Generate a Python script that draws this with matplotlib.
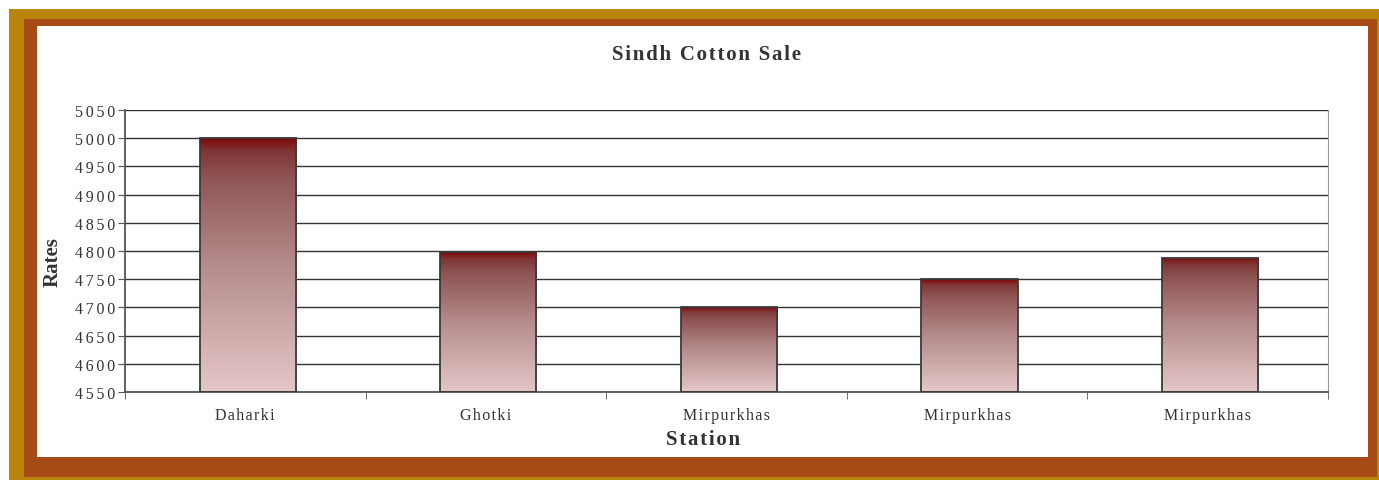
import numpy as np
import matplotlib.pyplot as plt
from matplotlib.patches import Rectangle
from matplotlib.colors import LinearSegmentedColormap

# chart data
stations = ['Daharki', 'Ghotki', 'Mirpurkhas', 'Mirpurkhas', 'Mirpurkhas']
rates = [5000, 4798, 4700, 4750, 4788]
yticks = list(range(4550, 5051, 50))

plt.rcParams['font.family'] = ['Liberation Serif', 'DejaVu Serif']

def spaced(s, n=1):
    # imitate the wide letter spacing of the original with hair spaces
    return ('\u200a' * n).join(s)

fig = plt.figure(figsize=(13.79, 4.81), dpi=100)
W, H = 1379, 481

def frect(x0, y0, x1, y1, color):
    # rectangle given in pixel coords (top-left origin)
    fig.patches.append(Rectangle((x0 / W, 1 - y1 / H), (x1 - x0) / W, (y1 - y0) / H,
                                 transform=fig.transFigure, facecolor=color,
                                 edgecolor='none', zorder=0))

# frames
frect(9, 10, 1379, 481, '#b8860b')
frect(24, 20, 1377, 478, '#a64b16')
frect(37, 27, 1368, 458, 'white')

ax = fig.add_axes([125 / W, 1 - 393 / H, (1328 - 125) / W, (393 - 111) / H])
ax.set_facecolor('none')
ax.set_zorder(2)

x = np.arange(len(stations))
cmap = LinearSegmentedColormap.from_list(
    'grad', [(0, '#e4c7c7'), (0.5, '#b58c8c'), (0.85, '#8f5454'),
             (0.95, '#7f3636'), (1, '#800808')])
grad = np.linspace(0, 1, 256).reshape(-1, 1)
bw = 0.4
bars = ax.bar(x + 0.01, [r - 4550 for r in rates], bottom=4550, width=bw,
              facecolor='none', edgecolor='#3a3a3a', linewidth=1.3, zorder=3)
for b, r in zip(bars, rates):
    im = ax.imshow(grad, cmap=cmap, aspect='auto', origin='lower',
                   extent=[b.get_x(), b.get_x() + bw, 4550, r], zorder=2)
    im.set_clip_path(b)

ax.set_xlim(-0.5, len(stations) - 0.5)
ax.set_ylim(4550, 5050)
ax.set_yticks(yticks)
ax.set_yticklabels([spaced(str(v), 2) for v in yticks], fontsize=11.5, color='#333333')
ax.yaxis.grid(True, color='#333333', linewidth=1.0, zorder=0)
ax.set_axisbelow(True)

ax.set_xticks(x)
ax.set_xticklabels([spaced(s, 1) for s in stations], fontsize=11.5, color='#333333')
ax.set_xticks(np.arange(-0.5, len(stations)), minor=True)
ax.tick_params(axis='x', which='major', length=0, pad=11)
ax.tick_params(axis='x', which='minor', length=5, color='#555555')
ax.tick_params(axis='y', length=5, color='#555555', pad=2)

for s in ['left', 'bottom']:
    ax.spines[s].set_color('#555555')
    ax.spines[s].set_linewidth(1.3)
ax.spines['right'].set_color('#999999')
ax.spines['top'].set_visible(False)

fig.text(707 / W, 1 - 55 / H, spaced('Sindh Cotton Sale', 1), ha='center', va='center',
         fontsize=15, fontweight='bold', color='#333333')
fig.text(703 / W, 1 - 440 / H, spaced('Station', 1), ha='center', va='center',
         fontsize=15, fontweight='bold', color='#333333')
fig.text(53 / W, 1 - 262 / H, 'Rates', ha='center', va='center', rotation=90,
         fontsize=15, fontweight='bold', color='#333333')

fig.savefig('out.png', dpi=100)
